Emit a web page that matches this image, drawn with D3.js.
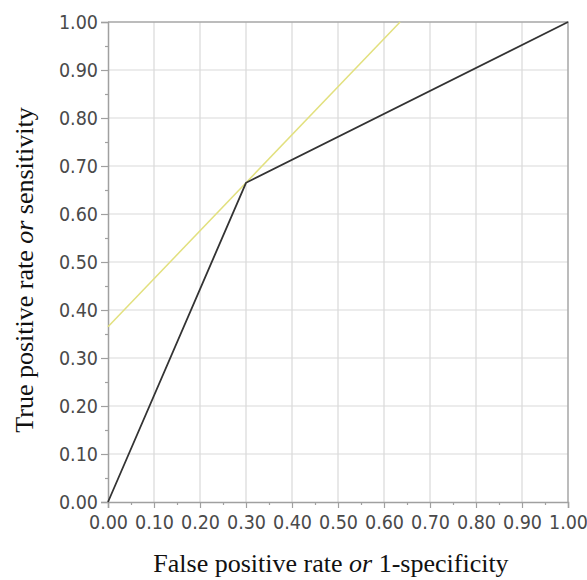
<!DOCTYPE html>
<html>
<head>
<meta charset="utf-8">
<script src="https://cdn.jsdelivr.net/npm/d3@7"></script>
<style>
  body { margin: 0; background: #fff; }
  .tick text { font-family: "DejaVu Sans Condensed", "DejaVu Sans", sans-serif; font-stretch: condensed; font-size: 19.5px; fill: #4a4a4a; }
  .title { font-family: "Liberation Serif", "Times New Roman", serif; font-size: 26px; fill: #111; }
</style>
</head>
<body>
<div id="chart"></div>
<script>
// ROC curve points (false positive rate, true positive rate)
const rocFpr = [0, 0.30, 1];
const rocTpr = [0, 0.665, 1];

// tangent line through the cut-off point
const tangentFpr = [0, 0.635];
const tangentTpr = [0.365, 1];

const majorTicks = [0, 0.1, 0.2, 0.3, 0.4, 0.5, 0.6, 0.7, 0.8, 0.9, 1.0];
const minorTicks = [0.05, 0.15, 0.25, 0.35, 0.45, 0.55, 0.65, 0.75, 0.85, 0.95];

const width = 587, height = 580;
const margin = {top: 22, right: 19, bottom: 78, left: 108};
const w = width - margin.left - margin.right;
const h = height - margin.top - margin.bottom;

const svg = d3.select("#chart").append("svg")
    .attr("width", width)
    .attr("height", height);

const g = svg.append("g")
    .attr("transform", `translate(${margin.left},${margin.top})`);

const x = d3.scaleLinear().domain([0, 1]).range([0, w]);
const y = d3.scaleLinear().domain([0, 1]).range([h, 0]);

// grid lines
g.append("g").selectAll("line")
    .data(majorTicks.slice(1, -1))
    .enter().append("line")
    .attr("x1", d => x(d)).attr("x2", d => x(d))
    .attr("y1", 0).attr("y2", h)
    .attr("stroke", "#d9d9d9").attr("stroke-width", 1.2);

g.append("g").selectAll("line")
    .data(majorTicks.slice(1, -1))
    .enter().append("line")
    .attr("y1", d => y(d)).attr("y2", d => y(d))
    .attr("x1", 0).attr("x2", w)
    .attr("stroke", "#d9d9d9").attr("stroke-width", 1.2);

// top and right frame
g.append("path")
    .attr("d", `M0,0H${w}V${h}`)
    .attr("fill", "none")
    .attr("stroke", "#a6a6a6")
    .attr("stroke-width", 1.5);

// axes
const fmt = d3.format(".2f");

g.append("g")
    .attr("transform", `translate(0,${h})`)
    .call(d3.axisBottom(x).tickValues(majorTicks).tickFormat(fmt).tickSize(6).tickPadding(7));

g.append("g")
    .attr("transform", `translate(0,${h})`)
    .call(d3.axisBottom(x).tickValues(minorTicks).tickFormat("").tickSize(3))
    .call(a => a.select(".domain").remove());

g.append("g")
    .call(d3.axisLeft(y).tickValues(majorTicks).tickFormat(fmt).tickSize(7).tickPadding(3));

g.append("g")
    .call(d3.axisLeft(y).tickValues(minorTicks).tickFormat("").tickSize(3))
    .call(a => a.select(".domain").remove());

g.selectAll(".domain").attr("stroke", "#a0a0a0").attr("stroke-width", 1.5);
g.selectAll(".tick line").attr("stroke", "#a0a0a0").attr("stroke-width", 1.2);

// lines
const line = d3.line().x(d => x(d[0])).y(d => y(d[1]));

g.append("path")
    .datum(d3.zip(tangentFpr, tangentTpr))
    .attr("d", line)
    .attr("fill", "none")
    .attr("stroke", "#e2e07e")
    .attr("stroke-width", 1.5);

g.append("path")
    .datum(d3.zip(rocFpr, rocTpr))
    .attr("d", line)
    .attr("fill", "none")
    .attr("stroke", "#333")
    .attr("stroke-width", 1.8);

// axis titles
const xt = svg.append("text")
    .attr("class", "title")
    .attr("x", 331)
    .attr("y", 572)
    .attr("text-anchor", "middle");
xt.append("tspan").text("False positive rate ");
xt.append("tspan").attr("font-style", "italic").text("or");
xt.append("tspan").text(" 1-specificity");

const yt = svg.append("text")
    .attr("class", "title")
    .attr("transform", "translate(33,270) rotate(-90)")
    .attr("text-anchor", "middle");
yt.append("tspan").text("True positive rate ");
yt.append("tspan").attr("font-style", "italic").text("or");
yt.append("tspan").text(" sensitivity");
</script>
</body>
</html>
